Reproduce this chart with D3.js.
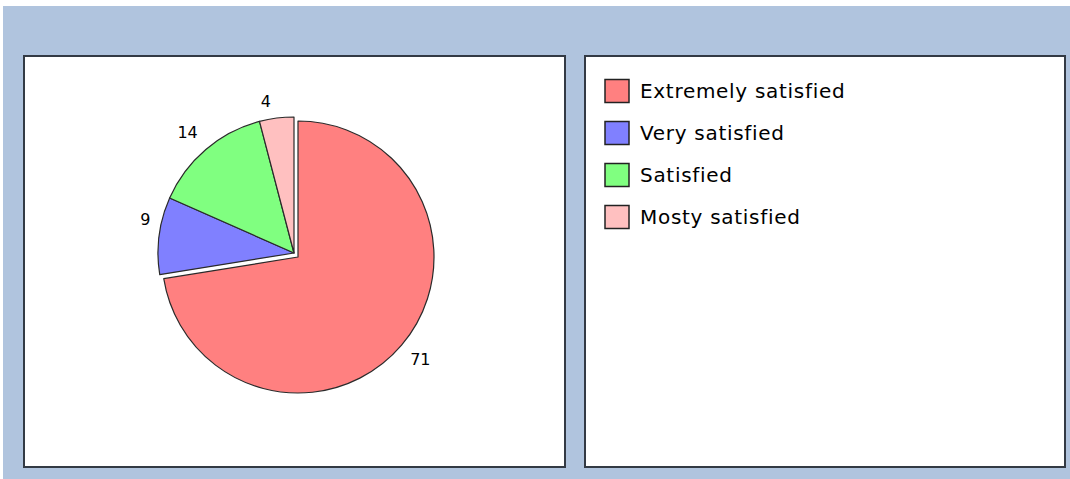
<!DOCTYPE html>
<html>
<head>
<meta charset="utf-8">
<script src="https://cdn.jsdelivr.net/npm/d3@7"></script>
<style>
  html, body { margin: 0; padding: 0; background: #ffffff; }
  svg { display: block; }
</style>
</head>
<body>
<svg id="chart" width="1070" height="479"></svg>
<script>
// Survey results: satisfaction levels
const categories = ["Extremely satisfied", "Very satisfied", "Satisfied", "Mosty satisfied"];
const values = [71, 9, 14, 4];
const colors = ["#ff8080", "#8080ff", "#80ff80", "#ffc0c0"];

const svg = d3.select("#chart");

// backdrop
svg.append("rect").attr("x", 3).attr("y", 6).attr("width", 1067).attr("height", 473)
  .attr("fill", "#b0c4de");

// plot and legend panels
const panels = [
  { x: 24, y: 56, w: 541, h: 411 },
  { x: 585, y: 56, w: 480, h: 411 }
];
svg.selectAll("rect.panel").data(panels).join("rect")
  .attr("class", "panel")
  .attr("x", d => d.x).attr("y", d => d.y)
  .attr("width", d => d.w).attr("height", d => d.h)
  .attr("fill", "#ffffff").attr("stroke", "#333a44").attr("stroke-width", 2);

// pie
const cx = 298, cy = 257, radius = 136;
const shift = [0, -4, -4, -4]; // first slice stays, the rest move up-left together
const labelDx = [2, 8, -4, -8];
const labelDy = [0, -14, 0, 5];

const pie = d3.pie().sort(null).value(d => d)(values);
const arc = d3.arc().innerRadius(0).outerRadius(radius);

const slices = svg.append("g");
slices.selectAll("path").data(pie).join("path")
  .attr("transform", (d, i) => `translate(${cx + shift[i]},${cy + shift[i]})`)
  .attr("d", arc)
  .attr("fill", (d, i) => colors[i])
  .attr("stroke", "#2a2a2a").attr("stroke-width", 1.2)
  .attr("stroke-linejoin", "round");

const labelR = 158;
svg.append("g").selectAll("text").data(pie).join("text")
  .attr("x", (d, i) => cx + shift[i] + labelR * Math.sin((d.startAngle + d.endAngle) / 2) + labelDx[i])
  .attr("y", (d, i) => cy + shift[i] - labelR * Math.cos((d.startAngle + d.endAngle) / 2) + labelDy[i])
  .attr("dy", "0.36em")
  .attr("text-anchor", "middle")
  .attr("font-family", "DejaVu Sans, sans-serif")
  .attr("font-size", 16)
  .attr("fill", "#000")
  .text(d => d.data);

// legend
const legendY = d3.scalePoint().domain(categories).range([91, 217]);
const legend = svg.append("g").selectAll("g").data(categories).join("g")
  .attr("transform", d => `translate(605,${legendY(d)})`);
legend.append("rect")
  .attr("x", 0).attr("y", -11.5).attr("width", 24).attr("height", 23)
  .attr("fill", (d, i) => colors[i])
  .attr("stroke", "#222").attr("stroke-width", 1.5);
legend.append("text")
  .attr("x", 35).attr("y", 0).attr("dy", "0.36em")
  .attr("font-family", "DejaVu Sans, sans-serif")
  .attr("font-size", 20)
  .attr("letter-spacing", 0.7)
  .attr("fill", "#000")
  .text(d => d);
</script>
</body>
</html>
